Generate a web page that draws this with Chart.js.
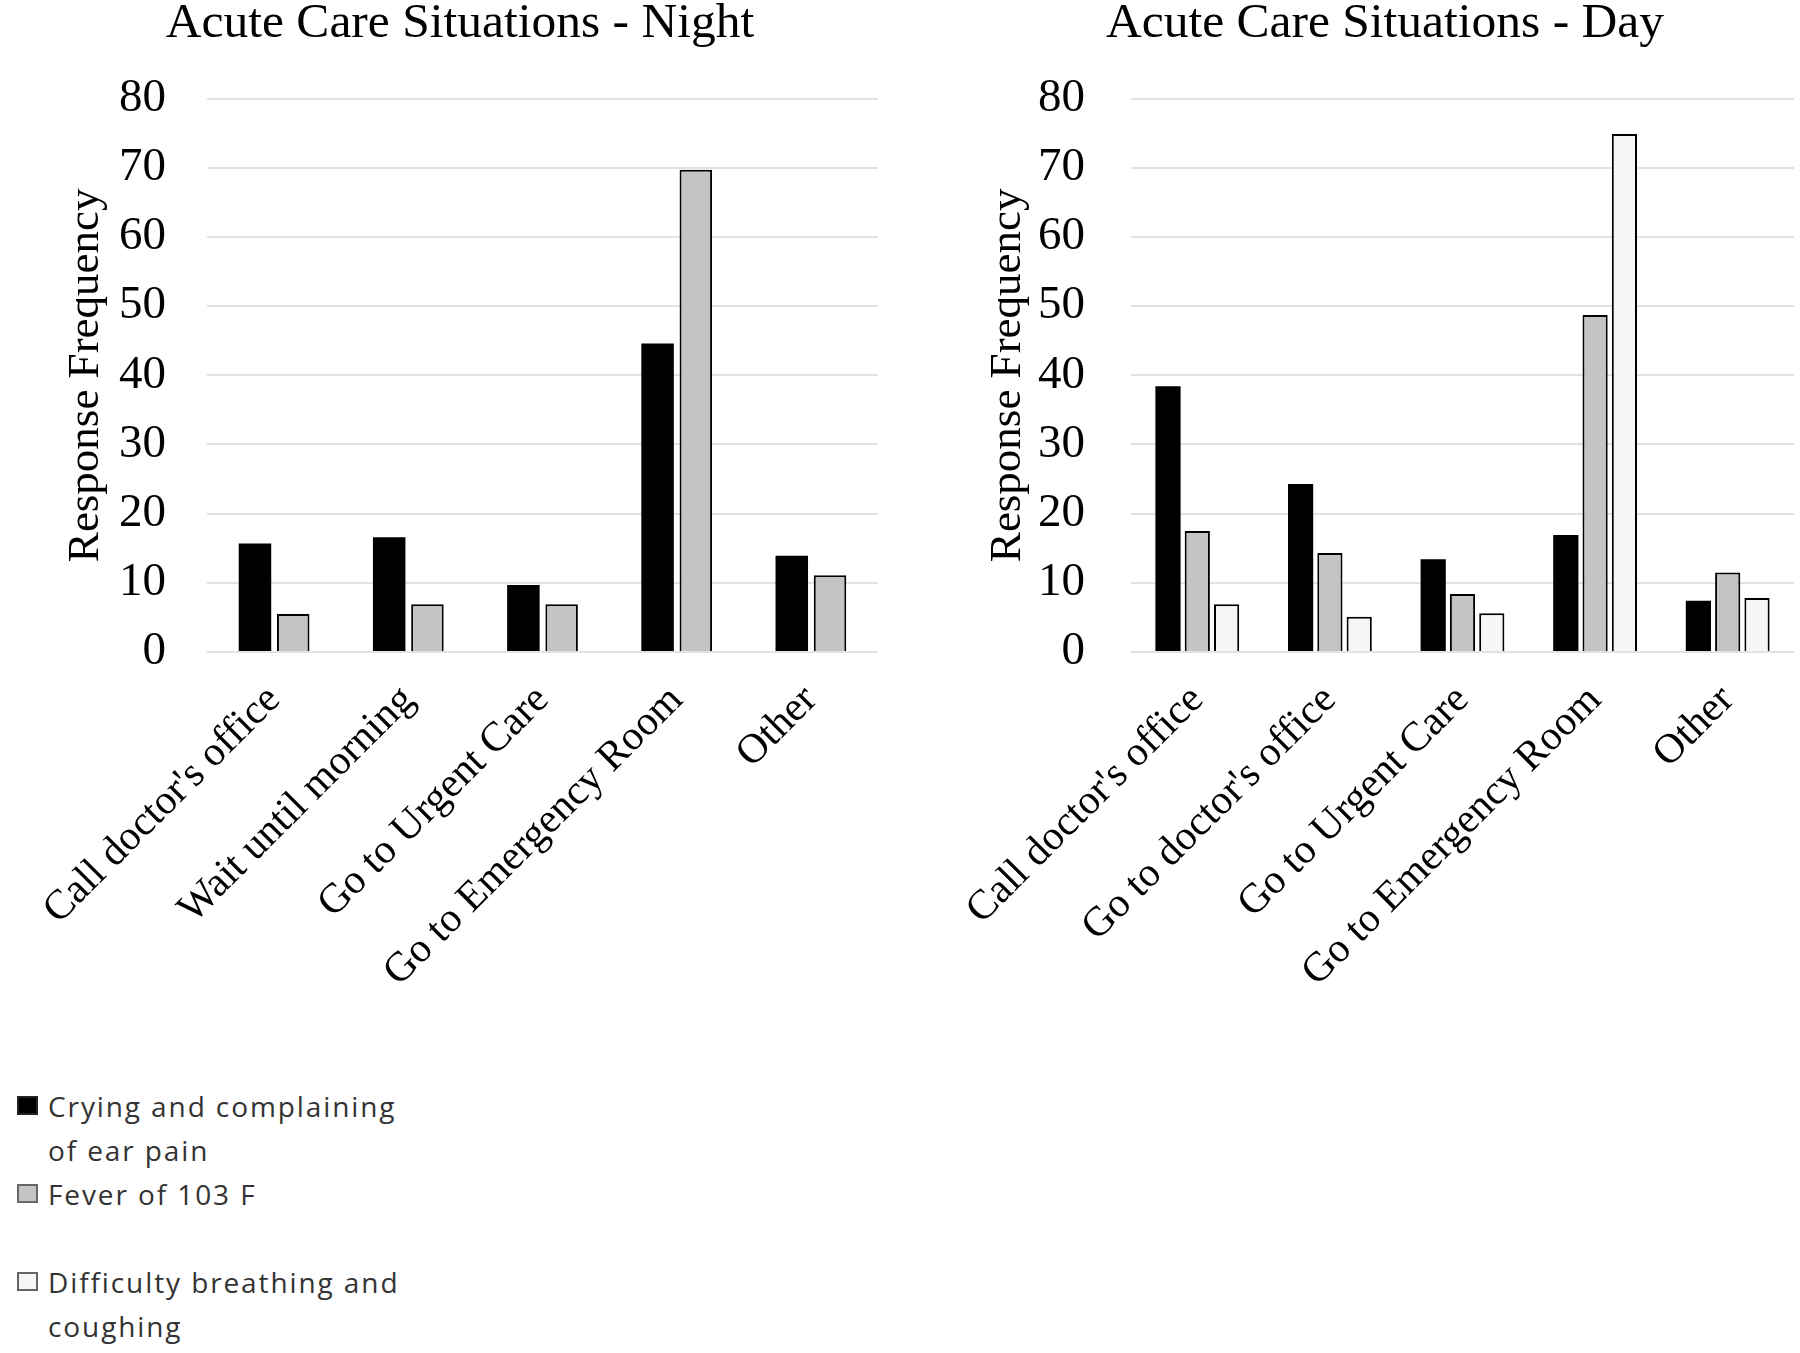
<!DOCTYPE html>
<html>
<head>
<meta charset="utf-8">
<script src="https://cdn.jsdelivr.net/npm/chart.js@4.4.1/dist/chart.umd.min.js"></script>
<style>
  html, body { margin: 0; padding: 0; background: #fff; }
  body { width: 1800px; height: 1353px; position: relative; overflow: hidden; }
  .box { position: absolute; top: 0; width: 900px; height: 1060px; }
  #legend { position: absolute; left: 17px; top: 1084px; font-family: "Open Sans", sans-serif;
    font-size: 28px; line-height: 44px; color: #333; letter-spacing: 1.9px; }
  #legend .item { display: flex; align-items: flex-start; }
  #legend .sw { width: 21px; height: 19px; margin-top: 12px; margin-right: 10px; box-sizing: border-box; flex: none; }
  #legend .txt { width: 365px; }
</style>
</head>
<body>
<div class="box" style="left:0"><canvas id="night"></canvas></div>
<div class="box" style="left:900px"><canvas id="day"></canvas></div>
<div id="legend"></div>
<script>
// categories
const nightCategories = ["Call doctor's office", "Wait until morning", "Go to Urgent Care", "Go to Emergency Room", "Other"]
const dayCategories = ["Call doctor's office", "Go to doctor's office", "Go to Urgent Care", "Go to Emergency Room", "Other"]

// series names
const seriesNames = ["Crying and complaining of ear pain", "Fever of 103 F", "Difficulty breathing and coughing"]

// values
const nightEarPain = [15.7, 16.6, 9.7, 44.6, 13.9]
const nightFever = [5.5, 6.9, 6.9, 69.7, 11.1]
const dayEarPain = [38.4, 24.3, 13.4, 16.9, 7.4]
const dayFever = [17.5, 14.3, 8.4, 48.7, 11.5]
const dayBreathing = [6.9, 5.1, 5.6, 74.9, 7.8]

const yTicks = [0, 10, 20, 30, 40, 50, 60, 70, 80]

const fills = ["#000000", "#c4c4c4", "#f6f6f6"]
const SERIF = "'Liberation Serif', 'Times New Roman', serif"

Chart.defaults.font.family = SERIF
Chart.defaults.color = "#000"

function ds(i, data) {
  return {
    label: seriesNames[i], data,
    backgroundColor: fills[i],
    borderColor: "#000",
    borderWidth: i === 0 ? 0 : 2
  }
}

function makeChart(id, title, labels, datasets, o) {
  return new Chart(document.getElementById(id), {
    type: "bar",
    data: { labels, datasets },
    options: {
      responsive: true, maintainAspectRatio: false, animation: false,
      categoryPercentage: o.catPct, barPercentage: o.barPct,
      layout: { padding: { left: o.padLeft, right: o.padRight, top: 0, bottom: 0 } },
      plugins: {
        legend: { display: false },
        tooltip: { enabled: false },
        title: { display: true, text: title, color: "#000",
          font: { size: 49.5, weight: "normal", lineHeight: 0.8 },
          padding: { top: 4, bottom: 55 } }
      },
      scales: {
        x: {
          grid: { display: false }, border: { display: false },
          ticks: { minRotation: 45, maxRotation: 45, autoSkip: false, padding: 16,
            font: { size: 41.5 }, color: "#000" },
          afterFit: (s) => { s.height = 1060 - 652 }
        },
        y: {
          min: 0, max: 80,
          afterBuildTicks: (s) => { s.ticks = yTicks.map(v => ({ value: v })) },
          grid: { color: "#e2e2e2", lineWidth: 2, drawTicks: false },
          border: { display: false },
          ticks: { padding: o.tickPad, font: { size: 47 }, color: "#000" },
          title: { display: true, text: "Response Frequency", color: "#000",
            font: { size: 45 }, padding: { top: o.titlePad, bottom: 0 } },
          afterFit: (s) => { s.width = o.yWidth }
        }
      }
    }
  })
}

makeChart("night", "Acute Care Situations - Night", nightCategories,
  [ds(0, nightEarPain), ds(1, nightFever)],
  { catPct: 0.57, barPct: 0.85, padLeft: 42, padRight: 22, yWidth: 165, tickPad: 41, titlePad: 17 })

makeChart("day", "Acute Care Situations - Day", dayCategories,
  [ds(0, dayEarPain), ds(1, dayFever), ds(2, dayBreathing)],
  { catPct: 0.663, barPct: 0.86, padLeft: 76, padRight: 6, yWidth: 155, tickPad: 46, titlePad: 5 })

// legend
const legend = document.getElementById("legend")
seriesNames.forEach((name, i) => {
  const item = document.createElement("div")
  item.className = "item"
  if (i === 2) item.style.marginTop = "44px"
  const sw = document.createElement("span")
  sw.className = "sw"
  sw.style.background = fills[i]
  sw.style.border = i === 0 ? "2px solid #222" : "2px solid #666"
  const txt = document.createElement("span")
  txt.className = "txt"
  txt.textContent = name
  item.appendChild(sw)
  item.appendChild(txt)
  legend.appendChild(item)
})
</script>
</body>
</html>
